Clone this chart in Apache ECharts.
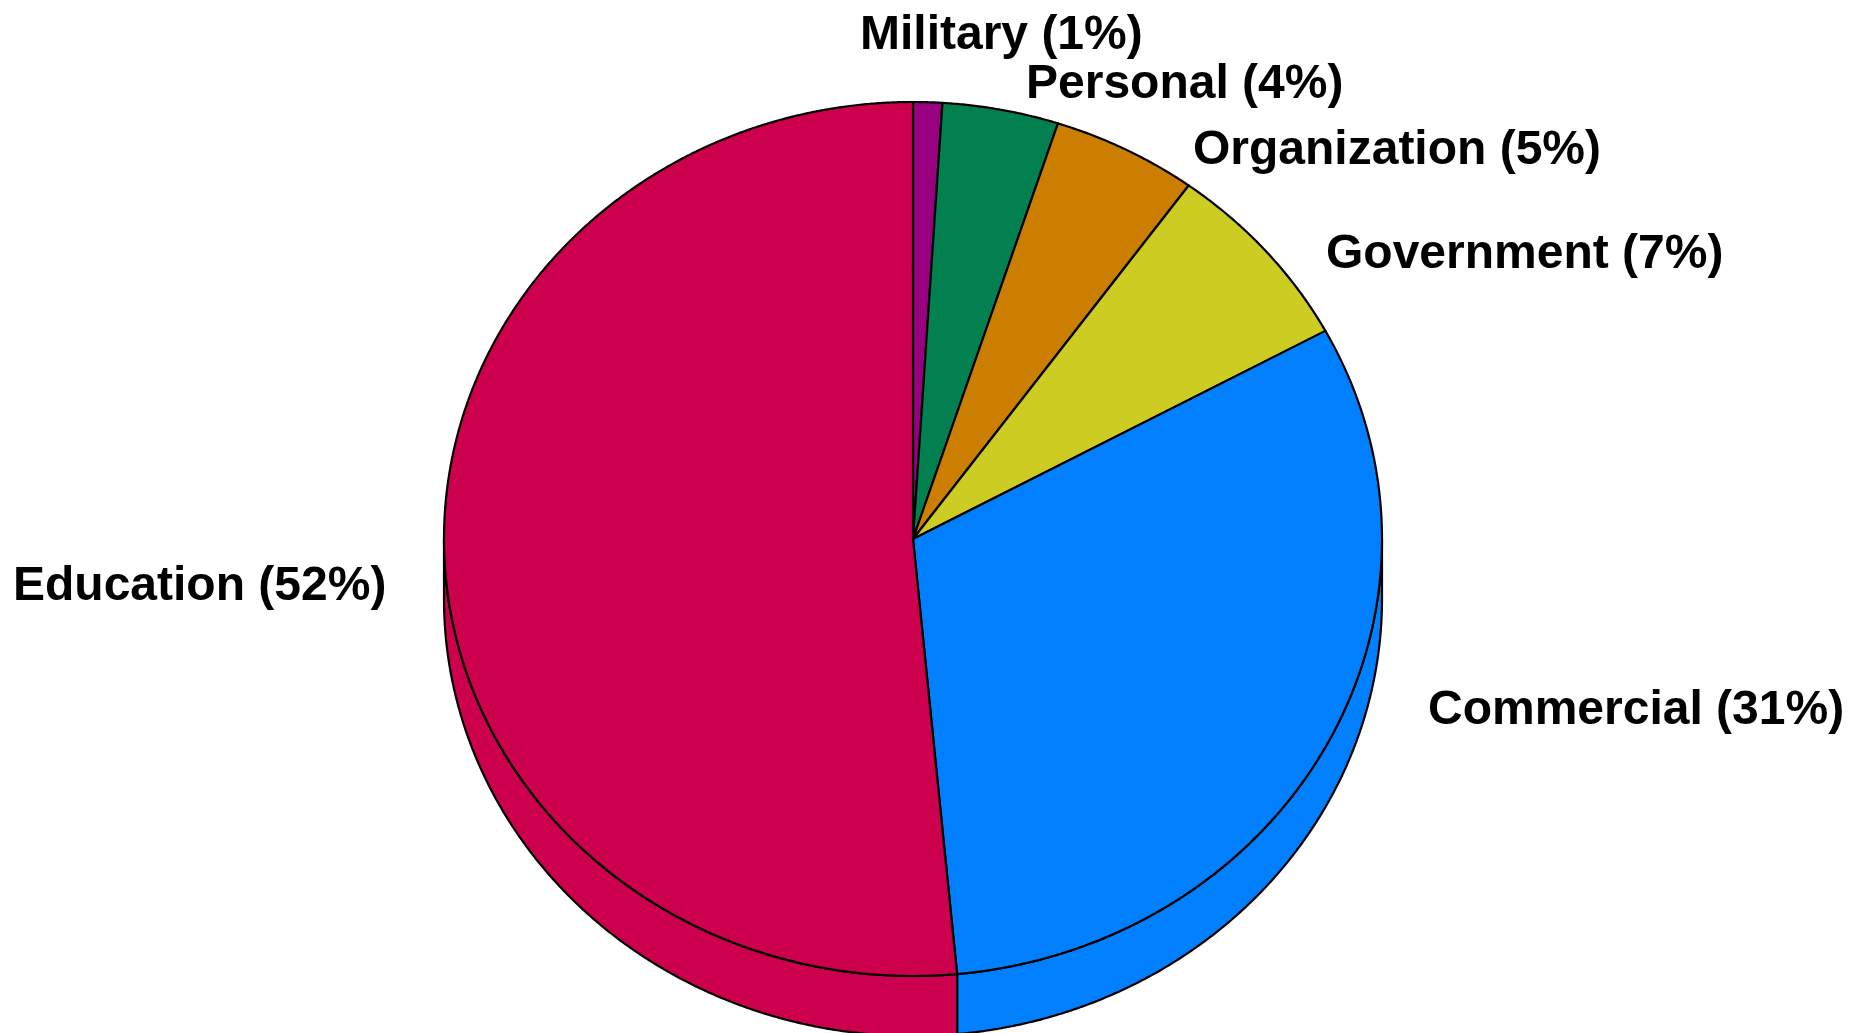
<!DOCTYPE html>
<html>
<head>
<meta charset="utf-8">
<title>Share by sector</title>
<script src="https://cdn.jsdelivr.net/npm/echarts@6/dist/echarts.min.js"></script>
<style>
  html, body { margin: 0; padding: 0; background: #ffffff; }
  #chart { width: 1865px; height: 1033px; }
</style>
</head>
<body>
<div id="chart"></div>
<script>
// Sectors, clockwise from 12 o'clock
const categories = ['Military', 'Personal', 'Organization', 'Government', 'Commercial', 'Education'];
const shares = [1.0, 4.0, 5.0, 7.1, 31.4, 51.5];
const sliceColors = ['#990080', '#028050', '#CC7E00', '#CCCC22', '#0080FF', '#CC004C'];

// Geometry of the tilted disc (top face is an ellipse, the rim is extruded downwards)
const CX = 913, CY = 539, RX = 469, RY = 437, DEPTH = 60;
const STEP = Math.PI / 720;

// Where each label's left edge / vertical middle sits
const labelAnchors = [
  [860, 36], [1026, 85], [1193, 151], [1326, 255], [1428, 711], [13, 587]
];

const TOTAL = shares.reduce((a, b) => a + b, 0);
const startFrac = [];
shares.reduce((acc, v) => { startFrac.push(acc / TOTAL); return acc + v; }, 0);

function ellipsePoint(a, dy) {
  return [CX + RX * Math.sin(a), CY - RY * Math.cos(a) + dy];
}
function arc(a0, a1, dy) {
  const pts = [];
  const n = Math.max(2, Math.ceil(Math.abs(a1 - a0) / STEP));
  for (let k = 0; k <= n; k++) pts.push(ellipsePoint(a0 + (a1 - a0) * k / n, dy));
  return pts;
}
function sliceAngles(i, v) {
  const a0 = startFrac[i] * Math.PI * 2;
  return [a0, a0 + v / TOTAL * Math.PI * 2];
}

const seriesData = categories.map((name, i) => ({ name, value: shares[i] }));
const outline = { stroke: '#000000', lineWidth: 2.2, lineJoin: 'round' };

// Rim: only the front half of the disc (angles between 90° and 270°) is visible
function renderSide(params, api) {
  const i = params.dataIndex;
  const [a0, a1] = sliceAngles(i, api.value(0));
  const b0 = Math.max(a0, Math.PI / 2), b1 = Math.min(a1, Math.PI * 1.5);
  if (b1 <= b0) return { type: 'group', children: [] };
  const pts = arc(b0, b1, 0).concat(arc(b1, b0, DEPTH));
  return {
    type: 'polygon',
    shape: { points: pts },
    style: Object.assign({ fill: sliceColors[i] }, outline)
  };
}

// Top face of each slice plus its label
function renderTop(params, api) {
  const i = params.dataIndex;
  const v = api.value(0);
  const [a0, a1] = sliceAngles(i, v);
  const pts = [[CX, CY]].concat(arc(a0, a1, 0));
  const pct = Math.round(v / TOTAL * 100);
  const [lx, ly] = labelAnchors[i];
  return {
    type: 'group',
    children: [
      {
        type: 'polygon',
        shape: { points: pts },
        style: Object.assign({ fill: sliceColors[i] }, outline)
      },
      {
        type: 'text',
        x: lx,
        y: ly,
        style: {
          text: categories[i] + ' (' + pct + '%)',
          fill: '#000000',
          fontFamily: '"Liberation Sans", Arial, sans-serif',
          fontWeight: 'bold',
          fontSize: 48,
          align: 'left',
          verticalAlign: 'middle'
        }
      }
    ]
  };
}

const chart = echarts.init(document.getElementById('chart'), null, { renderer: 'canvas' });
chart.setOption({
  backgroundColor: '#ffffff',
  animation: false,
  series: [
    { type: 'custom', name: 'rim', coordinateSystem: 'none', data: seriesData, renderItem: renderSide, silent: true },
    { type: 'custom', name: 'share', coordinateSystem: 'none', data: seriesData, renderItem: renderTop }
  ]
});
</script>
</body>
</html>
